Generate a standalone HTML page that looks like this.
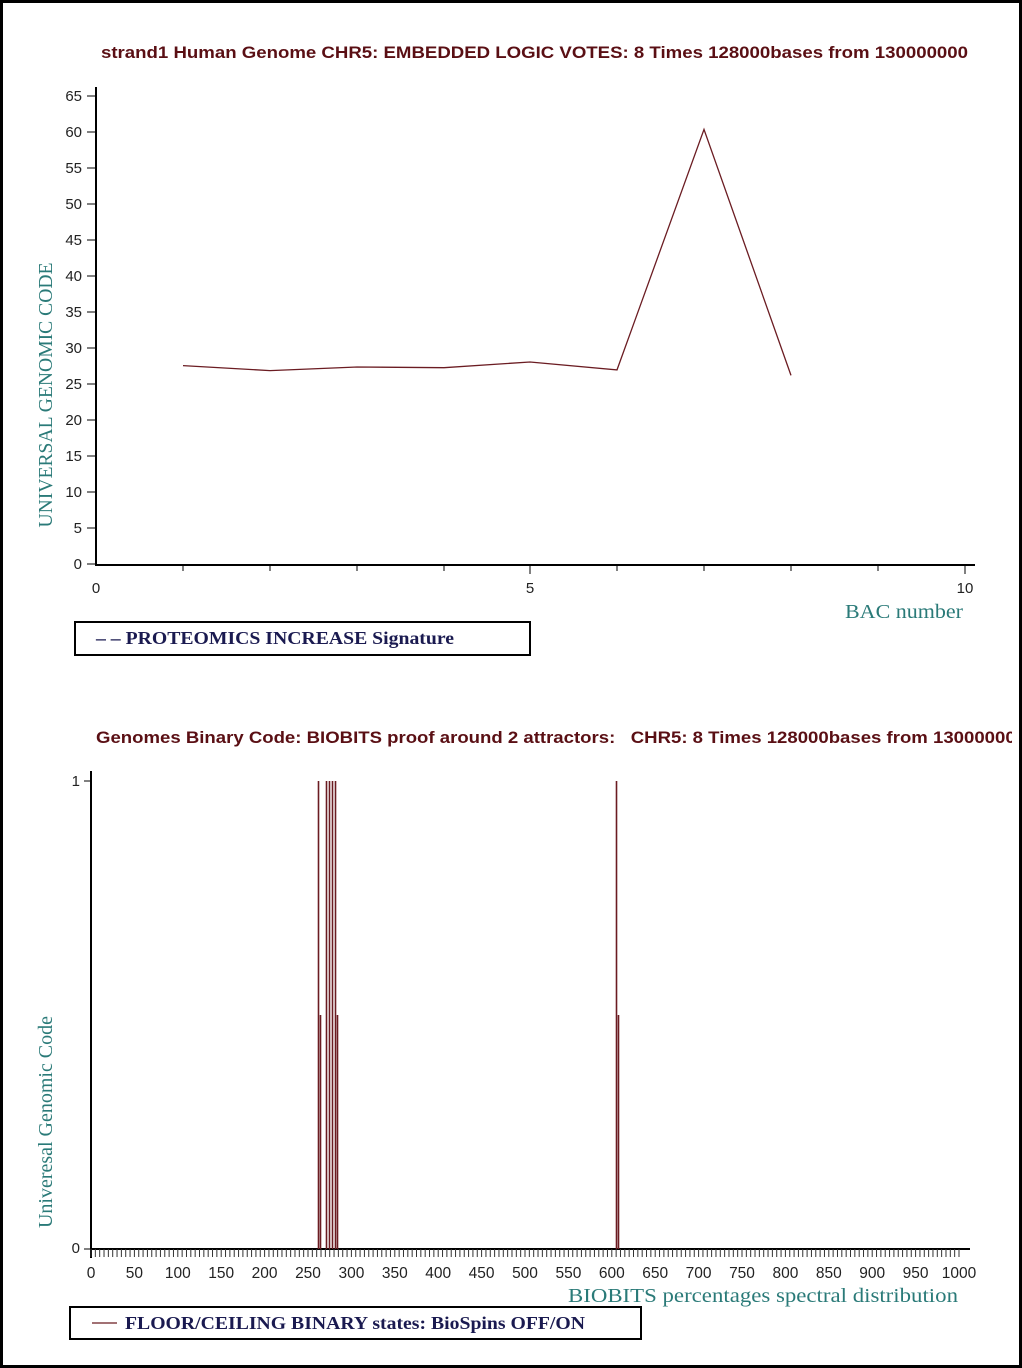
<!DOCTYPE html>
<html><head><style>
body{margin:0;background:#fff}
svg{display:block}
</style></head><body>
<svg width="1022" height="1368" xmlns="http://www.w3.org/2000/svg">
<rect x="1.5" y="1.5" width="1019" height="1365" fill="#fff" stroke="#000" stroke-width="3"/>
<text x="101" y="58" textLength="867" lengthAdjust="spacingAndGlyphs" font-family="Liberation Sans, sans-serif" font-size="17" font-weight="bold" fill="#5a0f14">strand1 Human Genome CHR5: EMBEDDED LOGIC VOTES: 8 Times 128000bases from 130000000</text>
<g stroke="#000" stroke-width="2">
<line x1="96" y1="87" x2="96" y2="565"/>
<line x1="95" y1="565" x2="975" y2="565"/>
</g>
<g font-family="Liberation Sans, sans-serif" font-size="15" fill="#222">
<text x="82" y="101" text-anchor="end">65</text><text x="82" y="137" text-anchor="end">60</text>
<text x="82" y="173" text-anchor="end">55</text><text x="82" y="209" text-anchor="end">50</text>
<text x="82" y="245" text-anchor="end">45</text><text x="82" y="281" text-anchor="end">40</text>
<text x="82" y="317" text-anchor="end">35</text><text x="82" y="353" text-anchor="end">30</text>
<text x="82" y="389" text-anchor="end">25</text><text x="82" y="425" text-anchor="end">20</text>
<text x="82" y="461" text-anchor="end">15</text><text x="82" y="497" text-anchor="end">10</text>
<text x="82" y="533" text-anchor="end">5</text><text x="82" y="569" text-anchor="end">0</text>
<text x="96" y="593" text-anchor="middle">0</text><text x="530" y="593" text-anchor="middle">5</text><text x="965" y="593" text-anchor="middle">10</text>
</g>
<g stroke="#000" stroke-width="1">
<path d="M87 96h9M87 132h9M87 168h9M87 204h9M87 240h9M87 276h9M87 312h9M87 348h9M87 384h9M87 420h9M87 456h9M87 492h9M87 528h9M87 564h9"/>
<path d="M183 565v6M270 565v6M357 565v6M444 565v6M530 565v9M617 565v6M704 565v6M791 565v6M878 565v6M965 565v9"/>
</g>
<polyline fill="none" stroke="#6b1c22" stroke-width="1.3" points="183,365.6 270,370.6 357,367 444,367.7 530,362 617,369.9 704,129.4 791,375.4"/>
<text transform="translate(52,395) rotate(-90)" textLength="265" lengthAdjust="spacingAndGlyphs" font-family="Liberation Serif, serif" font-size="20" fill="#2a7a78" text-anchor="middle">UNIVERSAL GENOMIC CODE</text>
<text x="845" y="618" textLength="118" lengthAdjust="spacingAndGlyphs" font-family="Liberation Serif, serif" font-size="20" fill="#2a7a78">BAC number</text>
<rect x="75" y="622" width="455" height="33" fill="none" stroke="#000" stroke-width="2"/>
<text x="96" y="644" textLength="358" lengthAdjust="spacingAndGlyphs" font-family="Liberation Serif, serif" font-size="18" font-weight="bold" fill="#1a1a50">– – PROTEOMICS INCREASE Signature</text>

<text x="96" y="743" textLength="930" lengthAdjust="spacingAndGlyphs" font-family="Liberation Sans, sans-serif" font-size="17" font-weight="bold" fill="#5a0f14" xml:space="preserve">Genomes Binary Code: BIOBITS proof around 2 attractors:   CHR5: 8 Times 128000bases from 130000000</text>
<rect x="1012" y="725" width="8" height="25" fill="#fff"/>
<rect x="1019" y="0" width="3" height="1368" fill="#000"/>
<g stroke="#000" stroke-width="2">
<line x1="91" y1="771" x2="91" y2="1258"/>
<line x1="90" y1="1249" x2="970" y2="1249"/>
</g>
<path d="M84 781h7M84 1249h7" stroke="#000"/>
<g font-family="Liberation Sans, sans-serif" font-size="15" fill="#222">
<text x="80" y="786" text-anchor="end">1</text><text x="80" y="1253" text-anchor="end">0</text>
</g>
<g id="xt" stroke="#333" stroke-width="1"></g>
<g id="xl" font-family="Liberation Sans, sans-serif" font-size="15.5" fill="#222" text-anchor="middle"></g>
<g stroke="#6b1c22" stroke-width="1.6">
<path d="M318.5 781V1249M326.5 781V1249M329.5 781V1249M332.5 781V1249M335.5 781V1249M616.5 781V1249"/>
<path d="M320.5 1015V1249M337.5 1015V1249M618.5 1015V1249"/>
</g>
<text transform="translate(52,1122) rotate(-90)" textLength="212" lengthAdjust="spacingAndGlyphs" font-family="Liberation Serif, serif" font-size="20" fill="#2a7a78" text-anchor="middle">Univeresal Genomic Code</text>
<text x="568" y="1302" textLength="390" lengthAdjust="spacingAndGlyphs" font-family="Liberation Serif, serif" font-size="20" fill="#2a7a78">BIOBITS percentages spectral distribution</text>
<rect x="70" y="1307" width="571" height="32" fill="none" stroke="#000" stroke-width="2"/>
<line x1="92" y1="1323" x2="117" y2="1323" stroke="#6b1c22" stroke-width="1.3"/>
<text x="125" y="1329" textLength="460" lengthAdjust="spacingAndGlyphs" font-family="Liberation Serif, serif" font-size="18" font-weight="bold" fill="#1a1a50">FLOOR/CEILING BINARY states: BioSpins OFF/ON</text>
<script>
var ns="http://www.w3.org/2000/svg",xt=document.getElementById("xt"),xl=document.getElementById("xl");
for(var v=0;v<=1000;v+=5){var x=91+v*0.868;var l=document.createElementNS(ns,"line");l.setAttribute("x1",x);l.setAttribute("x2",x);l.setAttribute("y1",1249);l.setAttribute("y2",1257);xt.appendChild(l);
if(v%50==0){var t=document.createElementNS(ns,"text");t.setAttribute("x",x);t.setAttribute("y",1278);t.textContent=v;xl.appendChild(t);}}
</script>
</svg>
</body></html>
